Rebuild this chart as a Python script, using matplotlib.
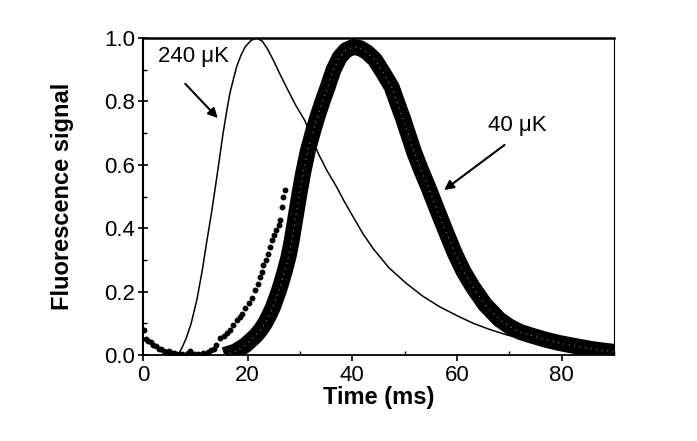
import matplotlib
matplotlib.use('Agg')
import matplotlib.pyplot as plt
from matplotlib.ticker import MultipleLocator

plt.rcParams['font.family'] = ['Liberation Sans', 'DejaVu Sans']

# 240 uK: thin solid line
t_240 = [6.7, 7.5, 8.3, 9.2, 10.3, 11.3, 12.2, 13.1, 14.0, 14.7, 15.3, 16.0,
         16.6, 17.3, 17.9, 18.7, 19.5, 20.6, 21.7, 22.8, 23.8, 24.9, 26.1,
         27.4, 29.1, 30.9, 32.2, 33.5, 35.2, 37.0, 38.5, 40.0, 42.0, 44.0,
         47.0, 50.3, 53.5, 56.7, 60.0, 63.1, 66.0, 68.8, 72.0, 75.8, 79.0,
         82.0, 86.0, 89.8]
y_240 = [0.0, 0.025, 0.055, 0.1, 0.175, 0.265, 0.36, 0.45, 0.55, 0.63, 0.7,
         0.77, 0.826, 0.872, 0.91, 0.945, 0.972, 0.992, 1.0, 0.99, 0.965,
         0.93, 0.888, 0.845, 0.79, 0.74, 0.688, 0.635, 0.58, 0.53, 0.483,
         0.44, 0.383, 0.335, 0.275, 0.226, 0.185, 0.152, 0.124, 0.1, 0.082,
         0.067, 0.052, 0.037, 0.027, 0.02, 0.012, 0.006]

# early scattered points
t_dots = [0.2, 0.6, 1.0, 1.5, 2.0, 2.5, 3.0, 3.5, 4.0, 4.5, 5.0, 5.5, 6.0, 6.5,
          7.0, 7.5, 8.0, 8.5, 9.0, 9.5, 10.0, 10.5, 11.0, 11.5, 12.0, 12.5,
          13.0, 13.5, 14.0, 14.7, 15.4, 16.0, 16.6, 17.2, 17.9, 18.5, 19.0,
          19.5, 20.2, 20.8, 21.4, 21.9, 22.3, 22.7, 23.0, 23.5, 23.9, 24.3,
          24.6, 25.1, 25.5, 25.9, 26.2, 26.5, 26.8, 27.2]
y_dots = [0.08, 0.05, 0.045, 0.04, 0.03, 0.028, 0.018, 0.02, 0.012, 0.01,
          0.012, 0.005, 0.006, 0.002, 0.0, 0.004, 0.0, 0.006, 0.012, 0.004,
          0.0, 0.003, 0.0, 0.005, 0.003, 0.008, 0.016, 0.02, 0.03, 0.053,
          0.06, 0.068, 0.08, 0.095, 0.11, 0.121, 0.13, 0.147, 0.165, 0.179,
          0.205, 0.225, 0.247, 0.262, 0.284, 0.3, 0.32, 0.34, 0.363, 0.38,
          0.394, 0.41, 0.426, 0.467, 0.5, 0.52]

# 40 uK: thick band of overlapping scans (centre of the band)
t_40 = [15.5, 17.5, 19.5, 21.5, 22.5, 23.3, 24.1, 24.8, 25.4, 26.0, 26.5,
        27.0, 27.8, 28.4, 28.9, 29.4, 29.9, 30.6, 31.5, 32.4, 33.3, 34.3,
        35.3, 36.4, 37.6, 38.8, 40.2, 41.5, 42.8, 44.3, 45.9, 47.5, 48.6,
        49.7, 50.8, 51.8, 53.1, 54.5, 55.8, 57.0, 58.3, 59.6, 61.2, 63.0,
        65.3, 68.1, 70.0, 72.0, 74.5, 77.0, 79.5, 82.0, 86.0, 90.0]
y_40 = [0.0, 0.01, 0.03, 0.06, 0.08, 0.10, 0.125, 0.15, 0.177, 0.205, 0.232,
        0.26, 0.31, 0.36, 0.41, 0.46, 0.51, 0.575, 0.645, 0.7, 0.75, 0.8,
        0.846, 0.9, 0.94, 0.962, 0.972, 0.968, 0.955, 0.932, 0.89, 0.846,
        0.795, 0.745, 0.69, 0.64, 0.585, 0.53, 0.475, 0.425, 0.372, 0.32,
        0.265, 0.215, 0.16, 0.112, 0.09, 0.073, 0.06, 0.048, 0.038, 0.03,
        0.018, 0.01]

fig = plt.figure(figsize=(6.97, 4.41), dpi=100)
ax = fig.add_axes([0.2052, 0.195, 0.6758, 0.7188])

ax.plot(t_40, y_40, color='black', lw=11.5, solid_capstyle='butt',
        solid_joinstyle='round', zorder=2)
ax.plot(t_40, y_40, color='0.5', lw=0.8, ls=(0, (1, 4)), zorder=3)
ax.plot(t_240, y_240, color='black', lw=1.1, zorder=4)
ax.plot(t_dots, y_dots, ls='none', marker='o', ms=3.2, color='black',
        zorder=4)

ax.set_xlim(0, 90)
ax.set_ylim(0, 1.0)
ax.xaxis.set_major_locator(MultipleLocator(20))
ax.xaxis.set_minor_locator(MultipleLocator(10))
ax.yaxis.set_major_locator(MultipleLocator(0.2))
ax.yaxis.set_minor_locator(MultipleLocator(0.1))
ax.yaxis.set_major_formatter(plt.FormatStrFormatter('%.1f'))

ax.tick_params(axis='both', which='major', labelsize=16, width=1.2)
ax.tick_params(axis='x', which='major', direction='out', length=4, pad=3)
ax.tick_params(axis='y', which='major', direction='inout', length=7, pad=2)
ax.tick_params(axis='both', which='minor', direction='in', length=3,
               width=1.0)

ax.spines['top'].set_linewidth(1.8)
ax.spines['left'].set_linewidth(1.5)
ax.spines['bottom'].set_linewidth(1.3)
ax.spines['right'].set_linewidth(0.8)

ax.set_xlabel('Time (ms)', fontsize=17, fontweight='bold', labelpad=0)
ax.set_ylabel('Fluorescence signal', fontsize=17, fontweight='bold',
              labelpad=22)

ax.text(9.55, 0.943, '240 μK', fontsize=16, ha='center', va='center')
ax.annotate('', xy=(14.65, 0.741), xytext=(7.7, 0.862),
            arrowprops=dict(arrowstyle='-|>', color='black', lw=1.5,
                            mutation_scale=14))
ax.text(71.6, 0.725, '40 μK', fontsize=16, ha='center', va='center')
ax.annotate('', xy=(57.1, 0.515), xytext=(69.5, 0.668),
            arrowprops=dict(arrowstyle='-|>', color='black', lw=1.5,
                            mutation_scale=14))

fig.savefig('out.png', dpi=100)
